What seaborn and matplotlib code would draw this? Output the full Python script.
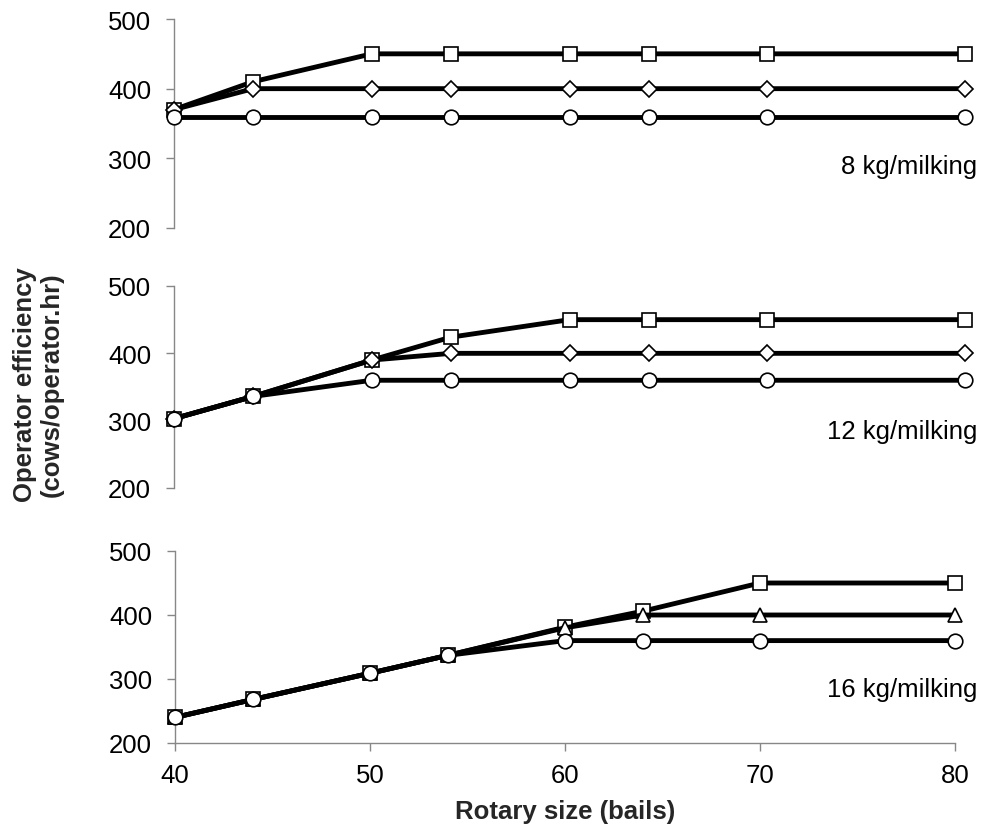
import matplotlib
matplotlib.use("Agg")
import matplotlib.pyplot as plt
import seaborn as sns
import pandas as pd

sns.set_theme(style="white")
plt.rcParams['font.family'] = ['Liberation Sans', 'DejaVu Sans']

rotary = [40, 44, 50, 54, 60, 64, 70, 80]

top_sq = [370, 410, 450, 450, 450, 450, 450, 450]
top_di = [370, 400, 400, 400, 400, 400, 400, 400]
top_ci = [360, 360, 360, 360, 360, 360, 360, 360]

mid_sq = [303, 336, 390, 424, 450, 450, 450, 450]
mid_di = [303, 336, 390, 400, 400, 400, 400, 400]
mid_ci = [303, 336, 360, 360, 360, 360, 360, 360]

bot_sq = [240, 268, 309, 337, 381, 406, 450, 450]
bot_tr = [240, 268, 309, 337, 380, 400, 400, 400]
bot_ci = [240, 268, 309, 337, 360, 360, 360, 360]

panel_labels = ["8 kg/milking", "12 kg/milking", "16 kg/milking"]
y_ticks = [200, 300, 400, 500]
x_ticks = [40, 50, 60, 70, 80]

W, H = 981, 829
fig = plt.figure(figsize=(W / 100, H / 100), dpi=100)

def frac(l, r, t, b):
    return [l / W, 1 - b / H, (r - l) / W, (b - t) / H]

ax_top = fig.add_axes(frac(174, 965, 20, 229))
ax_mid = fig.add_axes(frac(174, 965, 287, 489))
ax_bot = fig.add_axes(frac(175, 955, 552, 744))

spine_col = "#878787"
fs = 18.5

panels = [
    (ax_top, [(top_sq, 's', 10.5), (top_di, 'D', 8), (top_ci, 'o', 10.5)]),
    (ax_mid, [(mid_sq, 's', 10.5), (mid_di, 'D', 8), (mid_ci, 'o', 10.5)]),
    (ax_bot, [(bot_sq, 's', 10.5), (bot_tr, '^', 10), (bot_ci, 'o', 10.5)]),
]

for i, (ax, series) in enumerate(panels):
    for vals, mk, ms in series:
        df = pd.DataFrame({"x": rotary, "y": vals})
        sns.lineplot(data=df, x="x", y="y", ax=ax, color="black", linewidth=3.5,
                     marker=mk, markersize=ms, markerfacecolor="white",
                     markeredgecolor="black", markeredgewidth=1.2,
                     clip_on=False, zorder=3)
    ax.set_xlim(40, 80)
    ax.set_ylim(200, 500)
    ax.set_yticks(y_ticks)
    ax.set_xlabel("")
    ax.set_ylabel("")
    ax.set_facecolor("white")
    for s in ["top", "right"]:
        ax.spines[s].set_visible(False)
    ax.spines["left"].set_color(spine_col)
    ax.spines["left"].set_linewidth(1.0)
    ax.tick_params(axis="y", direction="out", length=5.5, width=1.0,
                   color=spine_col, labelsize=fs, labelcolor="black", pad=11, left=True)
    if i < 2:
        ax.spines["bottom"].set_visible(False)
        ax.set_xticks([])
    else:
        ax.spines["bottom"].set_color(spine_col)
        ax.spines["bottom"].set_linewidth(1.0)
        ax.set_xticks(x_ticks)
        ax.tick_params(axis="x", direction="out", length=5.5, width=1.0,
                       color=spine_col, labelsize=fs, labelcolor="black", pad=9, bottom=True)
    if ax.get_legend():
        ax.get_legend().remove()

label_y = [167, 432, 690]
for lab, yy in zip(panel_labels, label_y):
    fig.text(977 / W, 1 - yy / H, lab, ha="right", va="center", fontsize=fs, color="black")

fig.text(38 / W, 1 - 385 / H, "Operator efficiency\n(cows/operator.hr)", rotation=90,
         ha="center", va="center", fontsize=fs, fontweight="bold", linespacing=1.15,
         multialignment="center")
fig.text(565 / W, 1 - 812 / H, "Rotary size (bails)", ha="center", va="center",
         fontsize=fs, fontweight="bold")

fig.savefig("out.png", dpi=100, facecolor="white")
